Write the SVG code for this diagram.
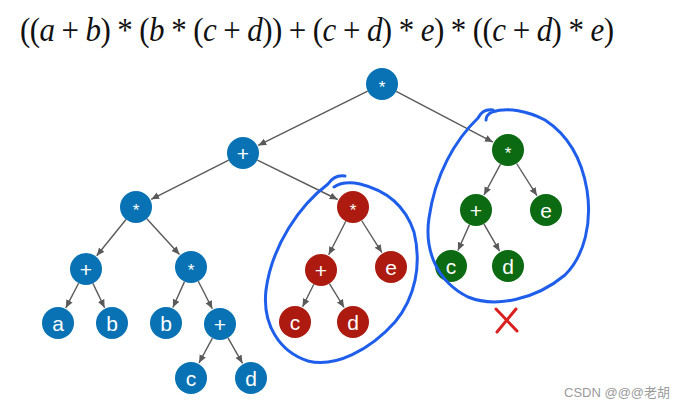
<svg xmlns="http://www.w3.org/2000/svg" width="678" height="408" viewBox="0 0 678 408">
<defs>
<marker id="arr" markerUnits="userSpaceOnUse" markerWidth="10" markerHeight="10" refX="8" refY="4" orient="auto">
<path d="M0,0.5 L8,4 L0,7.5 Z" fill="#5a5a5a"/>
</marker>
</defs>
<style>
.e{stroke:#5a5a5a;stroke-width:1.4;fill:none;marker-end:url(#arr)}
.b{fill:#0872B4}
.r{fill:#AC1A10}
.g{fill:#0B6A12}
.t{fill:#fff;font-family:"Liberation Sans",Arial,sans-serif;font-size:21px;text-anchor:middle}
.s{fill:#fff;font-family:"Liberation Sans",Arial,sans-serif;font-size:17px;text-anchor:middle}
.loop{fill:none;stroke:#1E5EEA;stroke-width:3;stroke-linecap:round;stroke-linejoin:round}
</style>
<rect width="678" height="408" fill="#fff"/>
<text transform="translate(20,41) scale(1,1.1)" x="0" y="0" font-family="'Liberation Serif','Times New Roman',serif" font-size="31" fill="#111" textLength="594" lengthAdjust="spacing">((<tspan font-style="italic">a</tspan> + <tspan font-style="italic">b</tspan>) * (<tspan font-style="italic">b</tspan> * (<tspan font-style="italic">c</tspan> + <tspan font-style="italic">d</tspan>)) + (<tspan font-style="italic">c</tspan> + <tspan font-style="italic">d</tspan>) * <tspan font-style="italic">e</tspan>) * ((<tspan font-style="italic">c</tspan> + <tspan font-style="italic">d</tspan>) * <tspan font-style="italic">e</tspan>)</text>
<g id="connectors">
<line class="e" x1="367.7" y1="91.1" x2="258.2" y2="145.4"/>
<line class="e" x1="396.2" y1="91.4" x2="492.9" y2="142.1"/>
<line class="e" x1="228.7" y1="160.2" x2="151.2" y2="199.3"/>
<line class="e" x1="257.4" y1="160.1" x2="337.7" y2="199.5"/>
<line class="e" x1="126.0" y1="219.5" x2="96.7" y2="255.8"/>
<line class="e" x1="146.8" y1="218.8" x2="179.5" y2="254.5"/>
<line class="e" x1="78.6" y1="283.2" x2="65.8" y2="307.9"/>
<line class="e" x1="92.9" y1="283.4" x2="104.6" y2="307.7"/>
<line class="e" x1="184.5" y1="281.6" x2="172.9" y2="307.5"/>
<line class="e" x1="198.3" y1="281.3" x2="212.3" y2="308.8"/>
<line class="e" x1="212.4" y1="338.1" x2="199.0" y2="363.0"/>
<line class="e" x1="228.0" y1="337.9" x2="242.5" y2="363.3"/>
<line class="e" x1="345.8" y1="221.3" x2="328.7" y2="254.8"/>
<line class="e" x1="361.6" y1="220.5" x2="381.9" y2="252.6"/>
<line class="e" x1="313.8" y1="284.3" x2="302.6" y2="306.8"/>
<line class="e" x1="329.4" y1="283.6" x2="344.1" y2="307.5"/>
<line class="e" x1="500.5" y1="164.1" x2="484.0" y2="195.0"/>
<line class="e" x1="516.6" y1="163.5" x2="536.9" y2="195.6"/>
<line class="e" x1="469.5" y1="224.6" x2="457.9" y2="250.5"/>
<line class="e" x1="483.9" y1="223.9" x2="499.6" y2="251.2"/>
</g>
<g id="n_root"><circle class="b" cx="382" cy="84" r="16"/><text class="s" x="382" y="93">*</text></g>
<g id="n_plus1"><circle class="b" cx="243" cy="153" r="16"/><text class="t" x="243" y="160.5">+</text></g>
<g id="n_mul1"><circle class="b" cx="136" cy="207" r="16"/><text class="s" x="136" y="216">*</text></g>
<g id="n_plus2"><circle class="b" cx="86" cy="269" r="16"/><text class="t" x="86" y="276.5">+</text></g>
<g id="n_a"><circle class="b" cx="58" cy="323" r="16"/><text class="t" x="58" y="330.5">a</text></g>
<g id="n_b1"><circle class="b" cx="112" cy="323" r="16"/><text class="t" x="112" y="330.5">b</text></g>
<g id="n_mul2"><circle class="b" cx="191" cy="267" r="16"/><text class="s" x="191" y="276">*</text></g>
<g id="n_b2"><circle class="b" cx="166" cy="323" r="16"/><text class="t" x="166" y="330.5">b</text></g>
<g id="n_plus3"><circle class="b" cx="220" cy="324" r="16"/><text class="t" x="220" y="331.5">+</text></g>
<g id="n_c1"><circle class="b" cx="191" cy="378" r="16"/><text class="t" x="191" y="385.5">c</text></g>
<g id="n_d1"><circle class="b" cx="251" cy="378" r="16"/><text class="t" x="251" y="385.5">d</text></g>
<g id="n_rmul"><circle class="r" cx="353" cy="207" r="16"/><text class="s" x="353" y="216">*</text></g>
<g id="n_rplus"><circle class="r" cx="321" cy="270" r="16"/><text class="t" x="321" y="277.5">+</text></g>
<g id="n_re"><circle class="r" cx="391" cy="267" r="16"/><text class="t" x="391" y="274.5">e</text></g>
<g id="n_rc"><circle class="r" cx="295" cy="322" r="16"/><text class="t" x="295" y="329.5">c</text></g>
<g id="n_rd"><circle class="r" cx="353" cy="322" r="16"/><text class="t" x="353" y="329.5">d</text></g>
<g id="n_gmul"><circle class="g" cx="508" cy="150" r="16"/><text class="s" x="508" y="159">*</text></g>
<g id="n_gplus"><circle class="g" cx="476" cy="210" r="16"/><text class="t" x="476" y="217.5">+</text></g>
<g id="n_ge"><circle class="g" cx="546" cy="210" r="16"/><text class="t" x="546" y="217.5">e</text></g>
<g id="n_gc"><circle class="g" cx="451" cy="266" r="16"/><text class="t" x="451" y="273.5">c</text></g>
<g id="n_gd"><circle class="g" cx="508" cy="266" r="16"/><text class="t" x="508" y="273.5">d</text></g>
<g id="annotations">
<path class="loop" d="M345,176 C338,175 332,178 328,184 C300,205 272,245 266,290 C262,325 280,352 308,361 C335,368 370,350 395,322 C415,298 422,265 414,232 C405,205 385,190 360,184 C350,182 340,183 334,187"/>
<path class="loop" d="M493,110 C486,109 481,112 478,118 C455,140 435,175 429,218 C424,252 438,282 468,297 C495,308 535,300 565,275 C585,255 592,222 587,190 C582,160 568,135 545,120 C528,111 508,107 492,112 C488,114 486,117 486,120"/>
<path d="M496,309 L517,331 M516,309 L497,332" stroke="#D8201E" stroke-width="3" stroke-linecap="round" fill="none"/>
</g>
<text x="564" y="397" font-family="'Liberation Sans','Noto Sans CJK SC',sans-serif" font-size="13" fill="#9a9a9a">CSDN @@@老胡</text>
</svg>
